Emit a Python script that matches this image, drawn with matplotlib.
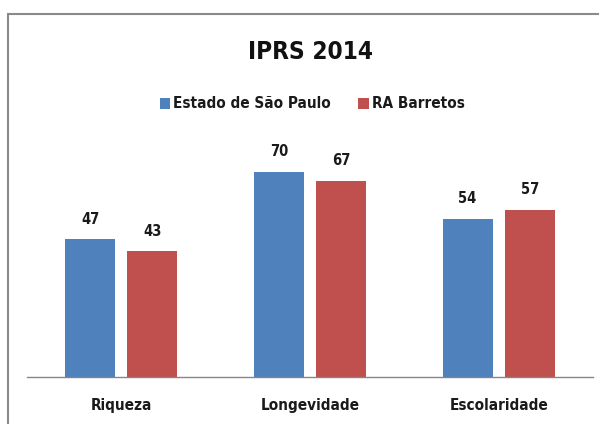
import matplotlib
matplotlib.use("Agg")
import matplotlib.pyplot as plt
import numpy as np
from matplotlib.patches import Rectangle

categories = ["Riqueza", "Longevidade", "Escolaridade"]
series_names = ["Estado de São Paulo", "RA Barretos"]
sp_values = [47, 70, 54]
rab_values = [43, 67, 57]
title = "IPRS 2014"

colors = ["#4F81BD", "#C0504D"]
plt.rcParams['font.family'] = ['DejaVu Sans']
plt.rcParams['font.stretch'] = 'condensed'

W, H = 599, 424
fig = plt.figure(figsize=(W/100, H/100), dpi=100)

ax_left, ax_right = 27, 593
ax_bottom, ax_top = 377, 142.6
ax = fig.add_axes([ax_left/W, 1 - ax_bottom/H, (ax_right-ax_left)/W, (ax_bottom-ax_top)/H])

x = np.arange(len(categories))
bw = 0.265
off = 0.165
b1 = ax.bar(x - off, sp_values, bw, color=colors[0], label=series_names[0])
b2 = ax.bar(x + off, rab_values, bw, color=colors[1], label=series_names[1])
for bars, vals in ((b1, sp_values), (b2, rab_values)):
    for r, v in zip(bars, vals):
        ax.annotate(f"{v}", (r.get_x() + r.get_width()/2, v), xytext=(0, 9),
                    textcoords="offset points", ha="center", va="bottom",
                    fontsize=10.5, fontweight="bold", fontstretch="condensed", color="#1a1a1a")

ax.set_xlim(-0.5, 2.5)
ax.set_ylim(0, 80)
ax.set_yticks([])
ax.set_xticks(x)
ax.set_xticklabels(categories, fontsize=11, fontweight="bold", fontstretch="condensed", color="#1a1a1a")
ax.tick_params(axis="x", length=0, pad=15)
for s in ("top", "right", "left"):
    ax.spines[s].set_visible(False)
ax.spines["bottom"].set_color("#868686")
ax.spines["bottom"].set_linewidth(1.0)

fig.text(310/W, 1 - 52/H, title, ha="center", va="center", fontsize=17.5,
         fontweight="bold", fontstretch="condensed", color="#111111")

leg = fig.legend(handles=[b1, b2], labels=series_names, loc="center",
                 bbox_to_anchor=(312/W, 1 - 104/H), ncol=2, frameon=False,
                 handlelength=0.7, handleheight=0.7,
                 handletextpad=0.2, columnspacing=1.75,
                 prop={"weight": "bold", "size": 11, "stretch": "condensed"})
for t in leg.get_texts():
    t.set_color("#1a1a1a")

fig.patches.append(Rectangle((8/W, -0.1), 1.2, 1 - 14/H + 0.1, transform=fig.transFigure,
                             fill=False, edgecolor="#8a8a8a", linewidth=1.5))

fig.savefig("out.png", dpi=100)
